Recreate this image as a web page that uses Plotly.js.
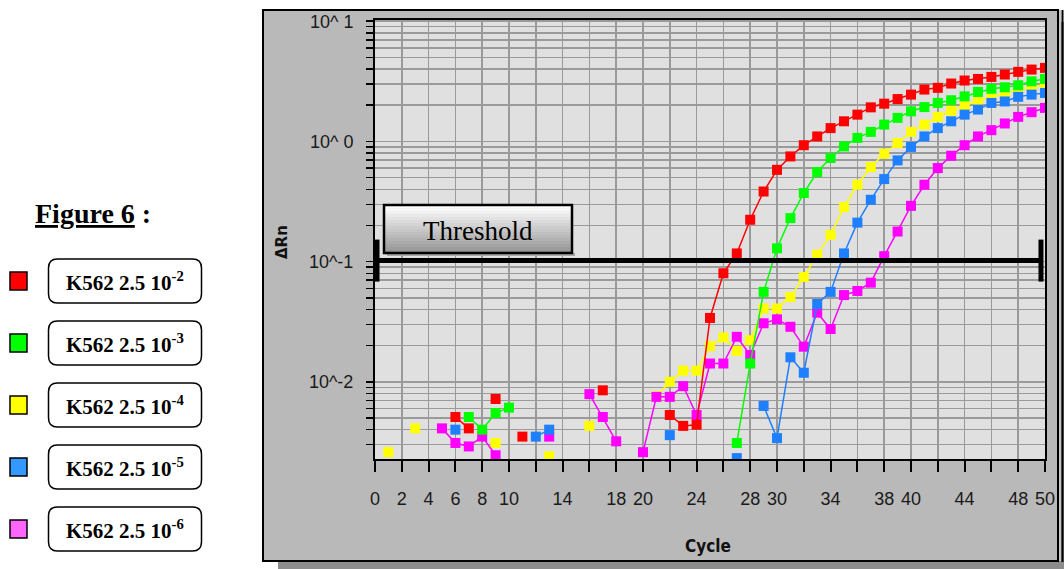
<!DOCTYPE html>
<html><head><meta charset="utf-8">
<script src="https://cdn.plot.ly/plotly-3.0.1.min.js"></script>
<style>html,body{margin:0;padding:0;background:#fff}#chart{width:1064px;height:569px}</style>
</head><body><div id="chart"></div>
<script>
const cycles = [1,2,3,4,5,6,7,8,9,10,11,12,13,14,15,16,17,18,19,20,21,22,23,24,25,26,27,28,29,30,31,32,33,34,35,36,37,38,39,40,41,42,43,44,45,46,47,48,49,50];

const seriesNames = ['K562 2.5 10<sup>-2</sup>','K562 2.5 10<sup>-3</sup>','K562 2.5 10<sup>-4</sup>','K562 2.5 10<sup>-5</sup>','K562 2.5 10<sup>-6</sup>'];

const dil2 = [null,null,null,null,null,0.0051,0.0041,null,0.0072,null,
  0.0035,null,null,null,null,null,0.0085,null,null,null,
  null,0.0053,0.0043,0.0044,0.034,0.080,0.117,0.223,0.383,0.58,
  0.75,0.93,1.10,1.29,1.47,1.67,1.92,2.06,2.25,2.45,
  2.70,2.79,3.03,3.21,3.31,3.44,3.60,3.79,3.96,4.09];
const dil3 = [null,null,null,null,null,null,0.0051,0.0040,0.0055,0.0061,
  null,null,null,null,null,null,null,null,null,null,
  null,null,null,null,null,null,0.0031,0.0142,0.056,0.129,
  0.230,0.372,0.556,0.728,0.909,1.07,1.20,1.38,1.57,1.78,
  1.93,2.09,2.20,2.37,2.58,2.74,2.82,2.93,3.16,3.31];
const dil4 = [0.0026,null,0.0041,null,null,null,null,null,0.0031,null,
  null,null,0.0024,null,null,0.0043,null,null,null,null,
  0.0076,0.0100,0.0124,0.0124,0.0198,0.0234,0.0181,0.0222,0.0407,0.0407,
  0.0507,0.0745,0.114,0.167,0.284,0.436,0.612,0.79,0.97,1.20,
  1.38,1.60,1.80,1.98,2.18,2.33,2.50,2.70,2.84,2.97];
const dil5 = [null,null,null,null,null,0.0040,null,null,null,null,
  null,0.0035,0.0040,null,null,null,null,null,null,null,
  null,0.0036,null,null,null,null,0.00232,null,0.0063,0.0034,
  0.016,0.0119,0.0444,0.056,0.117,0.211,0.327,0.486,0.695,0.90,
  1.10,1.29,1.47,1.67,1.84,2.09,2.15,2.35,2.45,2.53];
const dil6 = [null,null,null,null,0.0041,0.0031,0.0029,0.0035,0.00245,null,
  null,null,0.0035,null,null,0.0079,0.0051,0.0032,null,0.0026,
  0.0075,0.0075,0.0092,0.0053,0.0142,0.0142,0.0237,0.0167,0.0307,0.0331,
  0.0287,0.0196,0.0376,0.0275,0.0527,0.057,0.0668,0.111,0.178,0.291,
  0.436,0.60,0.76,0.93,1.10,1.24,1.41,1.60,1.75,1.90];

const thresholdValue = 0.102;
const thresholdCycles = [0.15, 49.7];

const xTickVals = [0,2,4,6,8,10,14,18,20,24,28,30,34,38,40,44,48,50];
const xTickText = ['0','2','4','6','8','10','14','18','20','24','28','30','34','38','40','44','48','50'];
const xMinorVals = [12,16,22,26,32,36,42,46];
const yTickVals = [0.01,0.1,1,10];
const yTickText = ['10^-2','10^-1','10^ 0','10^ 1'];
const yMinorVals = [0.003,0.004,0.005,0.006,0.007,0.008,0.009,0.02,0.03,0.04,0.05,0.06,0.07,0.08,0.09,0.2,0.3,0.4,0.5,0.6,0.7,0.8,0.9,2,3,4,5,6,7,8,9];

// drawing styles
const lineColors = ['#ff0000','#00ff00','#ffff00','#1e7fff','#ff00ff'];
const legendColors = ['#ff0000','#00ff00','#ffff00','#3399ff','#ff66ff'];
const seriesValues = [dil2, dil3, dil4, dil5, dil6];
const drawOrder = [2, 4, 3, 1, 0];

const W = 1064, H = 569, L = 375, R = 1045, T = 20, B = 459;
const px = x => (x - L) / (R - L);
const py = y => (B - y) / (B - T);

const traces = drawOrder.map(i => ({
  type: 'scatter', mode: 'lines+markers', x: cycles, y: seriesValues[i],
  name: seriesNames[i], showlegend: false, connectgaps: false,
  line: {color: lineColors[i], width: 1.5},
  marker: {symbol: 'square', size: 10, color: lineColors[i], line: {width: 0}}
}));
traces.push({
  type: 'scatter', mode: 'lines+markers', x: thresholdCycles, y: [thresholdValue, thresholdValue],
  showlegend: false, line: {color: '#000', width: 5},
  marker: {symbol: 'line-ns', size: 30, color: '#000', line: {color: '#000', width: 5}}
});

function rectPx(x0, y0, x1, y1, opts) {
  return Object.assign({type: 'rect', xref: 'paper', yref: 'paper',
    x0: px(x0), x1: px(x1), y0: py(y1), y1: py(y0)}, opts);
}
function roundPath(x0, y0, x1, y1, r) {
  const p = (x, y) => px(x).toFixed(5) + ',' + py(y).toFixed(5);
  return 'M' + p(x0 + r, y0) + ' L' + p(x1 - r, y0) + ' Q' + p(x1, y0) + ' ' + p(x1, y0 + r) +
    ' L' + p(x1, y1 - r) + ' Q' + p(x1, y1) + ' ' + p(x1 - r, y1) +
    ' L' + p(x0 + r, y1) + ' Q' + p(x0, y1) + ' ' + p(x0, y1 - r) +
    ' L' + p(x0, y0 + r) + ' Q' + p(x0, y0) + ' ' + p(x0 + r, y0) + ' Z';
}

const shapes = [];
// panel shadow & panel
shapes.push(rectPx(278, 22, 1064, 569, {fillcolor: '#8c8c8c', line: {width: 0}, layer: 'below'}));
shapes.push(rectPx(263, 10, 1058, 561, {fillcolor: '#b9b9b9', line: {color: '#000', width: 2}, layer: 'below'}));
shapes.push(rectPx(1059, 10, 1061, 561, {fillcolor: '#c8c8c8', line: {width: 0}, layer: 'below'}));
shapes.push({type: 'line', xref: 'paper', yref: 'paper', x0: px(1062.5), x1: px(1062.5), y0: py(10), y1: py(562), line: {color: '#000', width: 2}, layer: 'below'});
shapes.push(rectPx(L, T, R, B, {fillcolor: '#e0e0e0', line: {width: 0}, layer: 'below'}));

// threshold label box with gradient
const bx0 = 384, bx1 = 572, by0 = 205, by1 = 253;
shapes.push(rectPx(bx0 + 3, by1, bx1 + 3, by1 + 3, {fillcolor: '#a8a8a8', line: {width: 0}}));
const nStrips = 16;
for (let k = 0; k < nStrips; k++) {
  const t = k / (nStrips - 1);
  const c = Math.round(254 - t * (254 - 150));
  const h = (by1 - by0) / nStrips;
  shapes.push(rectPx(bx0, by0 + k * h, bx1, by0 + (k + 1) * h + 0.6,
    {fillcolor: `rgb(${c},${c},${c})`, line: {width: 0}}));
}
shapes.push(rectPx(bx0, by0, bx1, by1, {fillcolor: 'rgba(0,0,0,0)', line: {color: '#000', width: 2.5}}));

// legend
const rowY = [281, 343, 405, 467, 529];
const annotations = [];
rowY.forEach((y, i) => {
  shapes.push(rectPx(10, y - 9, 27, y + 9, {fillcolor: legendColors[i], line: {color: '#000', width: 1.5}}));
  shapes.push({type: 'path', xref: 'paper', yref: 'paper', path: roundPath(48.5, y - 22, 201.5, y + 22, 9),
    fillcolor: '#fff', line: {color: '#000', width: 1.5}});
  annotations.push({xref: 'paper', yref: 'paper', x: px(125), y: py(y), xanchor: 'center', yanchor: 'middle',
    text: '<b>' + seriesNames[i] + '</b>', showarrow: false,
    font: {family: 'Liberation Serif, Times New Roman, serif', size: 21, color: '#000'}});
});

annotations.push({xref: 'paper', yref: 'paper', x: px(33), y: py(213), xanchor: 'left', yanchor: 'middle',
  text: '<b><u>Figure 6</u> :</b>', showarrow: false,
  font: {family: 'Liberation Serif, Times New Roman, serif', size: 28, color: '#000'}});
annotations.push({xref: 'paper', yref: 'paper', x: px(478), y: py(231), xanchor: 'center', yanchor: 'middle',
  text: 'Threshold', showarrow: false,
  font: {family: 'Liberation Serif, Times New Roman, serif', size: 27, color: '#000'}});
annotations.push({xref: 'paper', yref: 'paper', x: px(282), y: py(242), xanchor: 'center', yanchor: 'middle',
  text: '<b>ΔRn</b>', textangle: -90, showarrow: false,
  font: {family: 'DejaVu Sans, sans-serif', size: 15, color: '#111'}});
annotations.push({xref: 'paper', yref: 'paper', x: px(708), y: py(546), xanchor: 'center', yanchor: 'middle',
  text: '<b>Cycle</b>', showarrow: false,
  font: {family: 'DejaVu Sans Condensed, DejaVu Sans, sans-serif', size: 17, color: '#111'}});

const tickFont = {family: 'Liberation Sans, Arial, sans-serif', size: 18, color: '#1a1a1a'};

const layout = {
  width: W, height: H,
  margin: {l: L, r: W - R, t: T, b: H - B, pad: 0},
  paper_bgcolor: '#fff', plot_bgcolor: '#e0e0e0',
  showlegend: false,
  xaxis: {
    range: [0, 50], tickmode: 'array', tickvals: xTickVals, ticktext: xTickText,
    ticks: 'outside', ticklen: 11, tickwidth: 2, tickcolor: '#000',
    minor: {tickmode: 'array', tickvals: xMinorVals, ticks: 'outside', ticklen: 11, tickwidth: 2, tickcolor: '#000',
      showgrid: true, gridcolor: '#9a9a9a', gridwidth: 1.5},
    showline: true, linecolor: '#000', linewidth: 2, mirror: true,
    showgrid: true, gridcolor: '#9a9a9a', gridwidth: 1.5, zeroline: false,
    tickfont: tickFont, ticklabelstandoff: 11
  },
  yaxis: {
    type: 'log', range: [-2.642, 1.01], tickmode: 'array', tickvals: yTickVals, ticktext: yTickText,
    ticks: 'outside', ticklen: 7, tickwidth: 1.5, tickcolor: '#000',
    minor: {tickmode: 'array', tickvals: yMinorVals, ticks: 'outside', ticklen: 7, tickwidth: 1.5, tickcolor: '#000',
      showgrid: true, gridcolor: '#9a9a9a', gridwidth: 1.5},
    showline: true, linecolor: '#000', linewidth: 2, mirror: true,
    showgrid: true, gridcolor: '#9a9a9a', gridwidth: 1.5, zeroline: false,
    tickfont: tickFont, ticklabelstandoff: 9
  },
  shapes: shapes,
  annotations: annotations
};

Plotly.newPlot('chart', traces, layout, {staticPlot: true, displayModeBar: false});
</script>
</body></html>
